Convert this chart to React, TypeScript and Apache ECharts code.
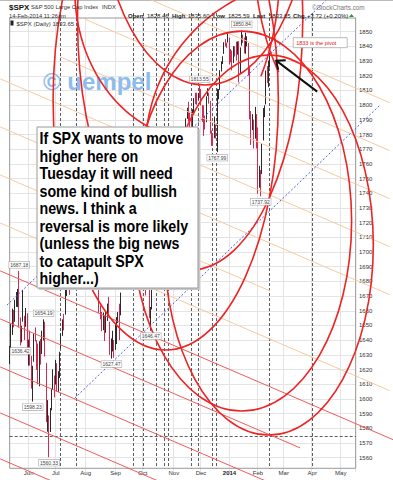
import React, { useEffect, useRef } from 'react';
import * as echarts from 'echarts';

// ---- Daily candles [open, close, low, high] ----
const may2013 = [
  [1632.1, 1633.8, 1623.7, 1636.0], [1633.8, 1650.3, 1633.8, 1651.1], [1649.1, 1658.8, 1643.6, 1661.5],
  [1658.1, 1650.5, 1648.7, 1660.5], [1652.5, 1667.5, 1652.5, 1667.5], [1665.7, 1666.3, 1662.7, 1672.8],
  [1666.2, 1669.2, 1662.6, 1674.9], [1669.4, 1655.4, 1648.6, 1687.18], [1651.6, 1650.5, 1636.42, 1655.5],
  [1646.7, 1649.6, 1638.5, 1649.8], [1652.6, 1660.1, 1652.6, 1674.2], [1656.6, 1648.4, 1640.1, 1656.6],
  [1649.1, 1654.4, 1649.1, 1661.9], [1652.1, 1630.7, 1630.7, 1658.3],
];
const jun2013 = [
  [1631.7, 1640.4, 1622.7, 1640.4], [1640.7, 1631.4, 1622.7, 1646.5], [1629.1, 1608.9, 1607.0, 1629.3],
  [1609.9, 1622.6, 1598.23, 1622.6], [1625.3, 1643.4, 1625.3, 1644.4], [1643.4, 1642.8, 1639.2, 1648.7],
  [1638.6, 1626.1, 1619.8, 1640.1], [1627.3, 1612.5, 1610.0, 1637.7], [1612.2, 1636.4, 1608.6, 1639.3],
  [1635.5, 1626.7, 1623.4, 1640.8], [1630.6, 1639.0, 1630.6, 1646.5], [1639.8, 1651.8, 1639.8, 1654.19],
  [1651.8, 1628.9, 1628.9, 1652.5], [1624.6, 1588.2, 1584.3, 1624.6], [1588.6, 1592.4, 1577.7, 1599.2],
  [1588.8, 1573.1, 1560.33, 1588.8], [1577.5, 1588.0, 1577.5, 1593.8], [1592.3, 1603.3, 1592.3, 1606.8],
  [1606.4, 1613.2, 1606.4, 1620.1], [1611.1, 1606.3, 1601.1, 1615.9],
];
const jul2013 = [
  [1609.8, 1615.0, 1609.8, 1626.6], [1614.3, 1614.1, 1605.0, 1624.3], [1611.5, 1615.4, 1604.6, 1618.9],
  [1618.7, 1631.9, 1614.3, 1632.1], [1634.2, 1640.5, 1634.2, 1644.7], [1642.9, 1652.3, 1642.9, 1654.2],
  [1652.9, 1652.6, 1646.7, 1657.9], [1657.4, 1675.0, 1657.4, 1676.6], [1675.3, 1680.2, 1670.1, 1680.2],
  [1679.6, 1682.5, 1677.1, 1684.5], [1682.7, 1676.3, 1670.9, 1683.7], [1677.9, 1680.9, 1674.8, 1684.8],
  [1681.1, 1689.4, 1681.1, 1693.1], [1686.2, 1692.1, 1686.0, 1692.1], [1694.4, 1695.5, 1689.8, 1697.6],
  [1696.1, 1692.4, 1691.4, 1698.8], [1696.1, 1685.9, 1680.9, 1696.8], [1685.2, 1690.3, 1680.2, 1690.9],
  [1687.3, 1691.7, 1676.0, 1691.8], [1690.3, 1685.3, 1681.9, 1690.9], [1687.9, 1686.0, 1681.1, 1693.2],
  [1687.0, 1685.7, 1684.4, 1698.4],
];
const aug2013 = [
  [1689.4, 1706.9, 1689.4, 1707.9], [1706.1, 1709.7, 1700.7, 1709.7], [1708.0, 1707.1, 1703.0, 1709.2],
  [1705.8, 1697.4, 1693.3, 1705.8], [1695.3, 1690.9, 1684.5, 1695.3], [1693.4, 1697.5, 1692.4, 1700.2],
  [1696.1, 1691.4, 1688.4, 1699.4], [1688.4, 1689.5, 1684.0, 1691.5], [1690.7, 1694.2, 1680.9, 1696.8],
  [1693.4, 1685.4, 1684.6, 1695.5], [1679.6, 1661.3, 1658.6, 1679.6], [1661.2, 1655.8, 1654.2, 1663.6],
  [1655.3, 1646.1, 1646.1, 1659.2], [1646.8, 1652.4, 1646.8, 1658.9], [1650.7, 1642.8, 1639.4, 1656.9],
  [1645.0, 1657.0, 1645.0, 1659.6], [1659.9, 1663.5, 1653.1, 1664.9], [1664.3, 1656.8, 1656.7, 1669.5],
  [1652.5, 1630.5, 1630.0, 1652.5], [1630.3, 1635.0, 1627.47, 1641.2], [1633.5, 1638.2, 1632.3, 1646.4],
  [1640.0, 1633.0, 1628.0, 1640.1],
];
const sep2013 = [
  [1635.9, 1639.8, 1633.4, 1651.4], [1638.8, 1653.1, 1637.4, 1655.7], [1653.3, 1655.1, 1651.7, 1659.2],
  [1657.4, 1655.2, 1640.0, 1664.8], [1656.9, 1671.7, 1656.9, 1672.4], [1675.1, 1684.0, 1675.1, 1684.1],
  [1681.0, 1689.1, 1681.0, 1689.1], [1689.2, 1683.4, 1681.0, 1689.9], [1685.0, 1688.0, 1682.2, 1688.6],
  [1696.9, 1697.6, 1693.1, 1704.6], [1697.7, 1704.8, 1697.7, 1705.5], [1705.0, 1725.5, 1700.8, 1729.4],
  [1727.3, 1722.3, 1720.2, 1729.9], [1722.4, 1709.9, 1708.4, 1725.2], [1711.4, 1701.8, 1697.8, 1711.4],
  [1702.6, 1697.4, 1695.5, 1707.6], [1698.0, 1692.8, 1691.6, 1701.7], [1694.1, 1698.7, 1694.1, 1703.9],
  [1695.5, 1691.8, 1687.0, 1695.5], [1687.3, 1681.6, 1674.2, 1687.3],
];
const oct2013 = [
  [1682.4, 1695.0, 1682.4, 1696.6], [1691.9, 1693.9, 1680.3, 1693.9], [1692.4, 1678.7, 1670.4, 1692.4],
  [1678.8, 1690.5, 1677.1, 1691.9], [1687.1, 1676.1, 1674.7, 1687.1], [1676.2, 1655.5, 1655.0, 1676.2],
  [1656.0, 1656.4, 1646.47, 1662.6], [1660.9, 1692.6, 1660.9, 1692.6], [1691.1, 1703.2, 1688.0, 1703.4],
  [1699.9, 1710.1, 1692.1, 1711.0], [1709.2, 1698.1, 1695.9, 1711.6], [1700.5, 1721.5, 1700.5, 1721.8],
  [1720.2, 1733.2, 1716.3, 1733.4], [1736.7, 1744.5, 1736.7, 1745.3], [1745.2, 1744.7, 1740.6, 1747.8],
  [1746.5, 1754.7, 1740.6, 1759.3], [1752.3, 1746.4, 1740.6, 1752.3], [1747.5, 1752.1, 1747.5, 1753.9],
  [1756.0, 1759.8, 1752.5, 1759.8], [1759.4, 1762.1, 1757.0, 1764.0], [1762.9, 1772.0, 1762.9, 1772.0],
  [1772.3, 1763.3, 1757.2, 1775.2], [1763.2, 1756.5, 1755.7, 1768.5],
];
const nov2013 = [
  [1758.7, 1761.6, 1752.6, 1765.7], [1763.4, 1767.9, 1761.6, 1768.8], [1765.7, 1763.0, 1755.8, 1767.0],
  [1765.0, 1770.5, 1761.8, 1773.7], [1770.7, 1747.2, 1746.2, 1774.5], [1748.4, 1770.6, 1747.0, 1770.8],
  [1769.6, 1771.9, 1767.6, 1773.4], [1769.3, 1767.7, 1760.7, 1771.5], [1764.0, 1782.0, 1760.6, 1782.0],
  [1782.8, 1790.6, 1780.2, 1791.0], [1790.7, 1798.2, 1790.7, 1798.2], [1798.8, 1791.5, 1788.8, 1802.3],
  [1790.8, 1787.9, 1784.7, 1795.5], [1789.6, 1781.4, 1777.2, 1795.7], [1783.5, 1795.9, 1783.5, 1797.2],
  [1797.2, 1804.8, 1794.7, 1804.8], [1806.3, 1802.5, 1800.6, 1808.4], [1802.9, 1802.8, 1800.3, 1808.4],
  [1803.5, 1807.2, 1803.5, 1808.3], [1808.0, 1805.8, 1804.8, 1813.55],
];
const dec2013 = [
  [1806.6, 1800.9, 1799.8, 1811.0], [1800.1, 1795.2, 1788.6, 1800.1], [1794.1, 1792.8, 1779.1, 1799.8],
  [1792.8, 1785.0, 1783.4, 1792.8], [1788.4, 1805.1, 1788.4, 1806.0], [1806.2, 1808.4, 1806.2, 1811.5],
  [1807.6, 1802.6, 1801.0, 1808.5], [1802.8, 1782.2, 1780.6, 1802.9], [1781.7, 1775.5, 1772.3, 1782.7],
  [1777.0, 1775.3, 1772.3, 1780.0], [1777.5, 1786.5, 1777.5, 1792.2], [1786.5, 1781.0, 1777.3, 1786.8],
  [1781.5, 1810.7, 1767.99, 1811.1], [1809.0, 1809.6, 1804.0, 1810.9], [1810.4, 1818.3, 1810.4, 1823.8],
  [1822.9, 1828.0, 1822.9, 1829.8], [1828.0, 1833.3, 1828.0, 1833.3], [1834.9, 1842.0, 1834.9, 1842.8],
  [1842.9, 1841.4, 1839.9, 1844.9], [1841.5, 1841.1, 1839.0, 1842.5], [1842.6, 1848.4, 1842.6, 1849.4],
];
const jan2014 = [
  [1845.9, 1832.0, 1827.7, 1845.9], [1833.2, 1831.4, 1829.1, 1838.2], [1832.3, 1826.8, 1823.7, 1837.2],
  [1828.7, 1837.9, 1828.7, 1840.1], [1837.9, 1837.5, 1833.1, 1840.0], [1839.0, 1838.1, 1830.3, 1843.2],
  [1840.1, 1842.4, 1834.4, 1843.4], [1841.3, 1819.2, 1815.5, 1843.5], [1821.4, 1838.9, 1821.4, 1839.3],
  [1840.5, 1848.4, 1840.5, 1850.84], [1848.0, 1845.9, 1842.3, 1848.0], [1844.2, 1838.7, 1835.2, 1846.0],
  [1841.1, 1843.8, 1835.0, 1849.3], [1844.7, 1844.9, 1840.0, 1846.9], [1842.3, 1828.5, 1820.1, 1842.3],
  [1826.9, 1790.3, 1790.3, 1826.9], [1791.0, 1781.6, 1772.9, 1796.0], [1783.0, 1792.5, 1783.0, 1793.9],
  [1790.2, 1774.2, 1770.5, 1790.2], [1777.2, 1794.2, 1777.2, 1798.8], [1790.9, 1782.6, 1770.5, 1793.9],
];
const feb2014 = [
  [1782.7, 1741.9, 1739.7, 1784.8], [1743.8, 1755.2, 1743.8, 1758.7], [1753.4, 1751.6, 1737.92, 1755.8],
  [1753.0, 1773.4, 1753.0, 1774.1], [1776.0, 1797.0, 1776.0, 1798.0], [1796.2, 1799.8, 1791.8, 1799.9],
  [1800.5, 1819.8, 1800.5, 1823.5], [1820.1, 1819.3, 1815.0, 1826.6], [1814.8, 1829.8, 1812.2, 1830.3],
  [1828.46, 1833.65, 1825.59, 1835.6],
];

const HOLIDAYS = ['2013-05-27', '2013-07-04', '2013-09-02', '2013-11-28', '2013-12-25',
  '2014-01-01', '2014-01-20', '2014-02-17', '2014-04-18', '2014-05-26'];
const MONTHS = ['Jan', 'Feb', 'Mar', 'Apr', 'May', 'Jun', 'Jul', 'Aug', 'Sep', 'Oct', 'Nov', 'Dec'];
const Y_TICKS_FROM = 1550;
const Y_TICKS_TO = 1860;

// labelled extremes: [date, 'high' | 'low']
const extremeLabels = [
  ['2013-05-22', 'high'], ['2013-05-23', 'low'], ['2013-06-18', 'high'], ['2013-06-06', 'low'],
  ['2013-06-24', 'low'], ['2013-08-28', 'low'], ['2013-10-09', 'low'], ['2013-11-29', 'high'],
  ['2013-12-18', 'low'], ['2014-01-15', 'high'], ['2014-02-05', 'low'],
];

// ---- drawn annotations (data coordinates: trading-day index, price) ----
const verticalDashDates = ['2013-07-05', '2013-07-23', '2013-09-20', '2013-10-01', '2013-10-15',
  '2013-10-23', '2013-10-28', '2013-11-20', '2013-11-27', '2013-12-12', '2013-12-17', '2014-02-13', '2014-04-01'];
const horizontalDashPrice = 1575;
// ellipses: [centerIndex, centerPrice, radiusDays, radiusPoints, startDeg, endDeg]
const ellipses = [
  [191.1, 1704.8, 76.6, 129.3, 0, 360],
  [171.2, 1721.1, 81.1, 129.3, 0, 360],
  [114.5, 1803.5, 83.3, 170.2, 0, 360],
  [132.9, 1858.0, 83.3, 170.2, 0, 360],
  [143.9, 1943.0, 77.4, 129.3, 0, 360],
  [258.2, 1905.6, 77.4, 129.3, 140, 200],
  [140.3, 1878.4, 92.1, 102.1, 90, 180],
  [118.2, 1892.0, 81.1, 129.3, -20, 35],
  [225.0, 1769.5, 125.3, 115.7, 172, 252],
];
// parallel channel lines: [startIndex, startPrice, endIndex, endPrice]
const orangeLines = [
  [96.0, 1874.9, 280.3, 1801.7],
  [55.5, 1858.3, 280.3, 1769.1],
  [37.1, 1833.0, 280.3, 1736.4],
  [-7.1, 1817.9, 280.3, 1703.7],
  [-7.1, 1785.2, 280.3, 1671.0],
  [-7.1, 1752.5, 191.9, 1673.5],
  [-7.1, 1719.8, 280.3, 1605.7],
];
const redLines = [
  [-7.1, 1687.2, 282.5, 1572.1],
  [-7.1, 1654.5, 214.0, 1566.7],
  [-7.1, 1621.8, 282.5, 1506.8],
  [-7.1, 1590.5, 140.3, 1532.0],
  [-7.1, 1559.2, 66.6, 1529.9],
];
const blueLines = [
  [-2.0, 1663.9, 233.1, 1871.2],
  [48.1, 1600.6, 272.9, 1800.1],
];
const pivotDate = '2014-02-14';
const pivotPrice = 1833;

const noteLines = [
  'If SPX wants to move', 'higher here on', 'Tuesday it will need', 'some kind of bullish',
  'news. I think a', 'reversal is more likely', '(unless the big news', 'to catapult SPX', 'higher...)',
];

const FONT = '"Liberation Sans", Arial, sans-serif';

function buildDates(): string[] {
  const out: string[] = [];
  let t = Date.UTC(2013, 4, 13);
  const end = Date.UTC(2014, 4, 15);
  while (t <= end) {
    const d = new Date(t);
    const wd = d.getUTCDay();
    const s = d.toISOString().slice(0, 10);
    if (wd !== 0 && wd !== 6 && HOLIDAYS.indexOf(s) < 0) out.push(s);
    t += 86400000;
  }
  return out;
}

export default function App() {
  const ref = useRef<HTMLDivElement>(null);
  useEffect(() => {
    const dates = buildDates();
    const candles = [...may2013, ...jun2013, ...jul2013, ...aug2013, ...sep2013, ...oct2013,
      ...nov2013, ...dec2013, ...jan2014, ...feb2014];
    const isMonthStart = (i: number) => i > 0 && dates[i].slice(0, 7) !== dates[i - 1].slice(0, 7);
    const nTicks = (Y_TICKS_TO - Y_TICKS_FROM) / 10 + 1;
    const splitColors: string[] = [];
    for (let i = 0; i < nTicks; i++) splitColors.push(i === 0 || i === nTicks - 1 ? 'rgba(0,0,0,0)' : '#e4e4e4');

    const chart = echarts.init(ref.current!, undefined, { renderer: 'svg' });
    chart.setOption({
      animation: false,
      backgroundColor: '#fff',
      textStyle: { fontFamily: FONT },
      grid: { left: 9, right: 38, top: 17, bottom: 7.6, containLabel: false, outerBoundsMode: 'none' },
      xAxis: {
        type: 'category', data: dates, boundaryGap: true,
        axisLine: { show: false }, axisTick: { show: false },
        axisLabel: {
          interval: (i: number) => isMonthStart(i), margin: -2, fontSize: 6, color: '#333',
          formatter: (v: string) => {
            const m = Number(v.slice(5, 7)) - 1;
            return m === 0 ? '{b|' + v.slice(0, 4) + '}' : MONTHS[m];
          },
          rich: { b: { fontWeight: 'bold', fontSize: 6, color: '#222' } },
        },
        splitLine: { show: true, interval: (i: number) => isMonthStart(i), lineStyle: { color: '#e4e4e4', width: 1 } },
      },
      yAxis: {
        type: 'value', position: 'right', min: Y_TICKS_FROM, max: Y_TICKS_TO, interval: 10, scale: true,
        axisLine: { show: false }, axisTick: { show: false },
        axisLabel: { fontSize: 6, color: '#333', margin: 4, showMinLabel: false, showMaxLabel: false, formatter: (v: number) => String(v) },
        splitLine: { show: true, lineStyle: { color: splitColors, width: 1 } },
      },
      series: [{
        type: 'candlestick', data: candles, barWidth: 1,
        itemStyle: { color: '#2a2a2a', color0: '#d42a52', borderColor: '#2a2a2a', borderColor0: '#d42a52', borderWidth: 1 },
      }],
    });

    const px = (i: number, p: number) => chart.convertToPixel({ gridIndex: 0 }, [i, p]) as number[];
    const idxOf = (d: string) => dates.indexOf(d);
    const g: any[] = [];
    // top rule and plot frame
    g.push({ type: 'line', shape: { x1: 0, y1: 0.5, x2: 393, y2: 0.5 }, style: { stroke: '#bbb', lineWidth: 1 }, z: 1 });
    const tl = px(-0.5, 1859.3);
    const br = px(dates.length - 0.5, 1552.8);
    g.push({ type: 'rect', shape: { x: tl[0], y: tl[1], width: br[0] - tl[0], height: br[1] - tl[1] }, style: { fill: 'none', stroke: '#999', lineWidth: 1 }, z: 1 });

    // vertical dashed lines
    verticalDashDates.forEach((d) => {
      const x = Math.round(px(idxOf(d), 1700)[0]) + 0.5;
      g.push({ type: 'line', shape: { x1: x, y1: tl[1] - 5, x2: x, y2: br[1] }, style: { stroke: '#333', lineWidth: 0.8, lineDash: [3, 2] }, z: 1 });
    });
    const hy = Math.round(px(0, horizontalDashPrice)[1]) + 0.5;
    g.push({ type: 'line', shape: { x1: tl[0], y1: hy, x2: br[0], y2: hy }, style: { stroke: '#333', lineWidth: 0.8, lineDash: [3, 2] }, z: 1 });

    const addLines = (arr: number[][], stroke: string, w: number, dash?: number[]) => arr.forEach((l) => {
      const a = px(l[0], l[1]);
      const b = px(l[2], l[3]);
      g.push({ type: 'line', shape: { x1: a[0], y1: a[1], x2: b[0], y2: b[1] }, style: { stroke, lineWidth: w, lineDash: dash }, z: 3 });
    });
    addLines(orangeLines, '#f7c9a1', 1);
    addLines(redLines, '#f25a5a', 1);
    addLines(blueLines, '#4e5cf0', 1, [2, 2]);

    ellipses.forEach((e) => {
      const c = px(e[0], e[1]);
      const rx = px(e[0] + e[2], e[1])[0] - c[0];
      const ry = c[1] - px(e[0], e[1] + e[3])[1];
      const style = { fill: 'none', stroke: '#ec2424', lineWidth: 1.6 };
      if (e[5] - e[4] >= 360) {
        g.push({ type: 'ellipse', shape: { cx: c[0], cy: c[1], rx, ry }, style, z: 40 });
      } else {
        const pts: number[][] = [];
        for (let a = e[4]; a <= e[5] + 0.01; a += 2) {
          const r = (a * Math.PI) / 180;
          pts.push([c[0] + rx * Math.cos(r), c[1] + ry * Math.sin(r)]);
        }
        g.push({ type: 'polyline', shape: { points: pts }, style, z: 40 });
      }
    });

    // extreme value labels
    extremeLabels.forEach(([d, kind]) => {
      const i = idxOf(d);
      const v = kind === 'high' ? candles[i][3] : candles[i][2];
      const p = px(i, v);
      g.push({
        type: 'text', x: p[0], y: kind === 'high' ? p[1] - 6 : p[1] + 5.5, z: 45,
        style: { text: v.toFixed(2), font: '5px ' + FONT, fill: '#444', align: 'center', verticalAlign: 'middle',
          backgroundColor: '#fff', borderColor: '#aaa', borderWidth: 0.6, padding: [0.5, 1] },
      });
    });

    // pivot label and arrow
    const pv = px(idxOf(pivotDate), pivotPrice);
    g.push({ type: 'rect', shape: { x: pv[0] + 23, y: pv[1] - 19, width: 54, height: 10 }, style: { fill: '#fff', stroke: '#aaa', lineWidth: 0.8 }, z: 46 });
    g.push({ type: 'text', x: pv[0] + 26, y: pv[1] - 14, z: 47, style: { text: '1833 is the pivot', font: '5.5px ' + FONT, fill: '#e02020', verticalAlign: 'middle' } });
    const tip = [pv[0] + 6, pv[1] + 4];
    const tail = [pv[0] + 47, pv[1] + 35];
    g.push({ type: 'line', shape: { x1: tail[0], y1: tail[1], x2: tip[0], y2: tip[1] }, style: { stroke: '#111', lineWidth: 2 }, z: 46 });
    g.push({ type: 'polyline', shape: { points: [[tip[0] + 2, tip[1] + 9], tip, [tip[0] + 9.5, tip[1] - 0.5]] }, style: { stroke: '#111', lineWidth: 2, fill: 'none' }, z: 46 });

    // watermark
    g.push({ type: 'text', x: 43, y: 81, z: 30, style: { text: '\u00a9 uempel', font: 'bold 24px ' + FONT, fill: '#8cbcee', verticalAlign: 'middle' } });

    // note box
    g.push({ type: 'rect', shape: { x: 39, y: 129, width: 161, height: 161 }, style: { fill: '#c8c8c8' }, z: 90 });
    g.push({ type: 'rect', shape: { x: 37, y: 127, width: 161, height: 161 }, style: { fill: '#fff', stroke: '#9a9a9a', lineWidth: 1 }, z: 91 });
    g.push({ type: 'text', x: 39.5, y: 129.5, scaleX: 0.89, z: 92,
      style: { text: noteLines.join('\n'), font: 'bold 16px ' + FONT, lineHeight: 17.5, fill: '#000', verticalAlign: 'top' } });

    // header
    const hdr = (text: string, x: number, y: number, size: number, bold = false, fill = '#222') =>
      g.push({ type: 'text', x, y, z: 95, style: { text, font: (bold ? 'bold ' : '') + size + 'px ' + FONT, fill, verticalAlign: 'middle' } });
    hdr('$SPX', 9, 7, 8, true, '#111');
    hdr('S&P 500 Large Cap Index', 31, 7, 5.8, false, '#333');
    hdr('INDX', 102, 7, 5.8, false, '#333');
    hdr('\u00a9StockCharts.com', 312, 7, 6.3, false, '#777');
    hdr('14-Feb-2014 11:26am', 9, 15.5, 5.8, false, '#333');
    hdr('Open', 128, 15.5, 6, true); hdr('1828.46', 147, 15.5, 6);
    hdr('High', 172, 15.5, 6, true); hdr('1835.60', 188, 15.5, 6);
    hdr('Low', 213, 15.5, 6, true); hdr('1825.59', 228, 15.5, 6);
    hdr('Last', 253, 15.5, 6, true); hdr('1833.65', 269, 15.5, 6);
    hdr('Chg.', 293, 15.5, 6, true); hdr('+3.72 (+0.20%)', 307, 15.5, 6);
    g.push({ type: 'polygon', shape: { points: [[349, 17], [354, 17], [351.5, 14]] }, style: { fill: '#2a9a2a' }, z: 95 });
    g.push({ type: 'rect', shape: { x: 10.5, y: 20.5, width: 3, height: 5 }, style: { fill: '#222' }, z: 95 });
    hdr('$SPX (Daily) 1833.65', 16.5, 23.5, 6, false, '#333');

    chart.setOption({ graphic: g });
    return () => chart.dispose();
  }, []);
  return <div ref={ref} style={{ position: 'fixed', left: 0, top: 0, width: 393, height: 480, background: '#fff' }} />;
}
